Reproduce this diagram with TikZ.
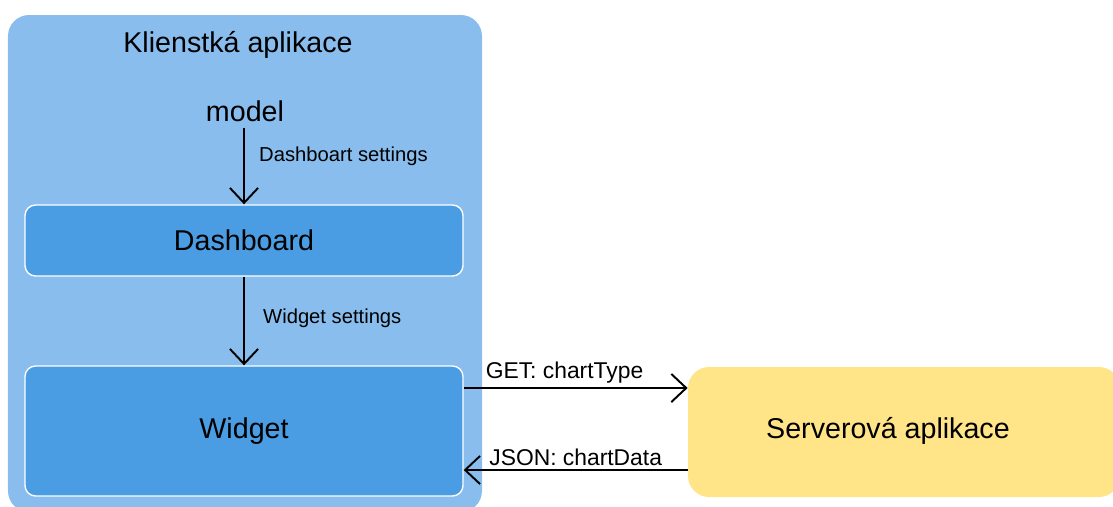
\documentclass[tikz,border=0pt]{standalone}
\usepackage{fontspec}
\setmainfont{Liberation Sans}
\definecolor{clientblue}{RGB}{137,189,237}
\definecolor{boxblue}{RGB}{74,157,227}
\definecolor{serveryellow}{RGB}{255,228,136}
\usetikzlibrary{positioning, arrows.meta}

\begin{document}
\begin{tikzpicture}[
    appbox/.style={rounded corners=12pt, inner sep=0pt},
    partbox/.style={fill=boxblue, draw=white, line width=0.8pt, rounded corners=6pt,
      minimum width=8.76cm, font=\fontsize{16.3}{19}\selectfont},
    arrow/.style={-{Straight Barb[length=8.5pt, width=16pt]}, line width=1.1pt},
    biglabel/.style={font=\fontsize{16.3}{19}\selectfont},
    steplabel/.style={font=\fontsize{11.5}{14}\selectfont, anchor=west},
    msglabel/.style={font=\fontsize{13}{16}\selectfont, above, inner sep=2pt},
  ]
    \useasboundingbox (0,0) rectangle (22.26,-10.12);
    % client side
    \node[appbox, fill=clientblue, minimum width=9.48cm, minimum height=9.94cm] (client) at (4.90,-5.27) {};
    \node[biglabel] (title) at (4.76,-0.90) {Klienstká aplikace};
    \node[biglabel] (model) at (4.90,-2.22) {model};
    \node[partbox, minimum height=1.42cm] (dash) at (4.88,-4.81) {Dashboard};
    \node[partbox, minimum height=2.60cm] (widget) at (4.88,-8.62) {Widget};
    % server side
    \node[appbox, fill=serveryellow, minimum width=8.64cm, minimum height=2.60cm] (server) at (18.08,-8.64) {};
    \node[biglabel] (servername) at (17.76,-8.62) {Serverová aplikace};

    \draw[arrow] (model.south -| dash.north) -- (dash.north);
    \draw[arrow] (dash.south) -- (widget.north);
    \node[steplabel] at (5.06,-3.12) {Dashboart settings};
    \node[steplabel] at (5.14,-6.36) {Widget settings};

    \draw[arrow] ([yshift=0.86cm]widget.east) -- ([yshift=0.86cm]widget.east -| server.west)
      node[msglabel, pos=0.45] {GET: chartType};
    \draw[arrow] ([yshift=-0.78cm]widget.east -| server.west) -- ([yshift=-0.78cm]widget.east)
      node[msglabel, midway] {JSON: chartData};
  \end{tikzpicture}
\end{document}
